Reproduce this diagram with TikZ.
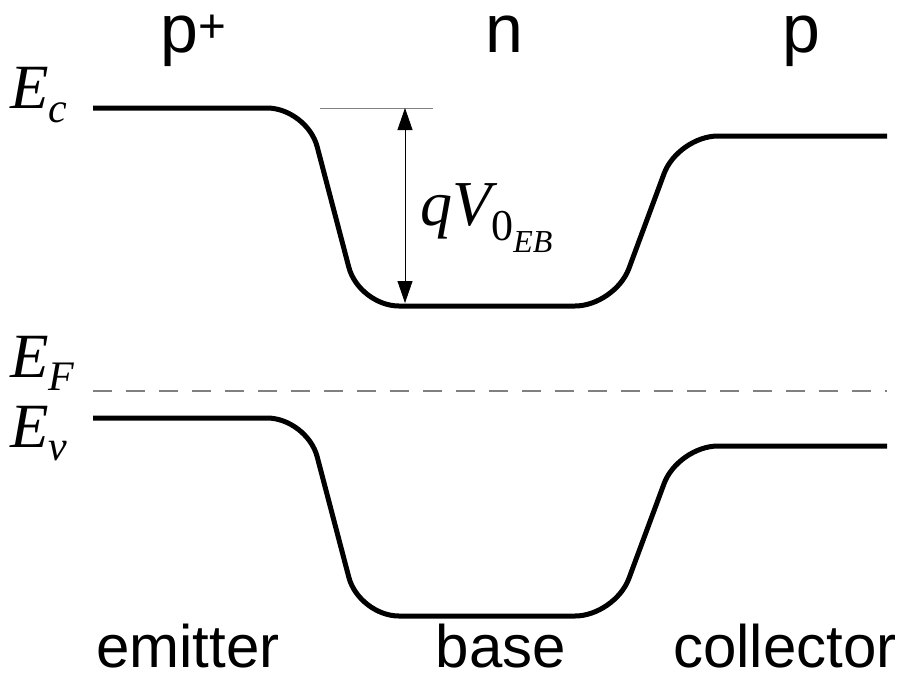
\documentclass[tikz,border=0pt]{standalone}
\usepackage{fontspec}
\setmainfont{Liberation Sans}
\newfontfamily\tms{Liberation Serif}
\usetikzlibrary{arrows.meta}
\definecolor{fermigray}{HTML}{808080}
\newcommand{\sub}[2]{\raisebox{-#2pt}{\fontsize{42}{42}\selectfont #1}}

\begin{document}
\begin{tikzpicture}[
    x=1pt, y=-1pt,
    band/.style={line width=5pt, rounded corners=40pt},
    region/.style={inner sep=0pt, anchor=base, font=\fontsize{68}{80}\selectfont},
    side/.style={inner sep=0pt, anchor=base, font=\fontsize{60}{72}\selectfont},
    lvl/.style={inner sep=0pt, anchor=base west, font=\fontsize{63}{76}\selectfont\tms\itshape},
    arr/.style={{Triangle[length=22pt,width=15pt]}-{Triangle[length=22pt,width=15pt]}, line width=0.8pt}
  ]
  \useasboundingbox (0,0) rectangle (904,678);

  % regions
  \node[region] (emtype) at (194,52) {p\textsuperscript{+}};
  \node[region] (basetype) at (504,52) {n};
  \node[region] (coltype) at (801,52) {p};

  % level labels
  \node[lvl] (ec) at (10,108) {E\sub{c}{14}};
  \node[lvl] (ef) at (10,377) {E\sub{F}{13}};
  \node[lvl] (ev) at (10,447) {E\sub{v}{13}};

  % conduction and valence bands
  \draw[band] (93,108) -- (307,108) -- (359,306) -- (615,306) -- (678,136) -- (887,136);
  \draw[band] (93,418) -- (307,418) -- (359,616) -- (615,616) -- (678,446) -- (887,446);

  % Fermi level
  \draw[fermigray, line width=1.5pt, dash pattern=on 19pt off 14pt] (93,391) -- (887,391);

  % barrier height
  \coordinate (vtop) at (405,108);
  \coordinate (vbot) at (405,303);
  \draw[line width=0.8pt, gray] (320,108) -- (433,108);
  \draw[arr] (vtop) -- (vbot);
  \node[lvl, font=\fontsize{64}{76}\selectfont\tms\itshape] (barrier) at (420,225)
    {qV\raisebox{-15pt}{\fontsize{44}{44}\selectfont\upshape 0\raisebox{-12pt}{\fontsize{32}{32}\selectfont\itshape EB}}};

  % device sides
  \node[side] (emitter) at (188,667) {emitter};
  \node[side] (base) at (501,667) {base};
  \node[side] (collector) at (785,667) {collector};
\end{tikzpicture}
\end{document}
